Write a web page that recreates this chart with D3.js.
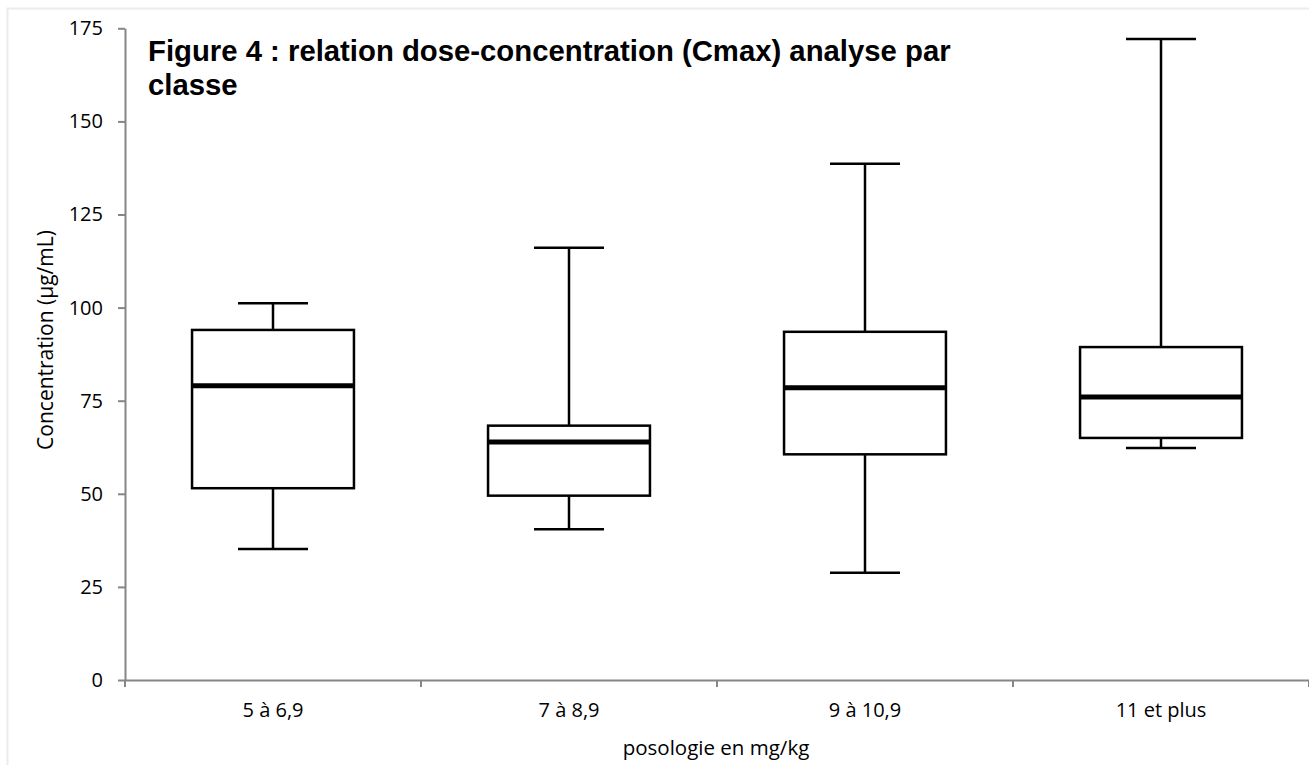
<!DOCTYPE html>
<html>
<head>
<meta charset="utf-8">
<script src="https://cdn.jsdelivr.net/npm/d3@7"></script>
<style>
  body { margin: 0; background: #fff; }
  svg { display: block; }
</style>
</head>
<body>
<div id="chart"></div>
<script>
// data
var categories = ["5 à 6,9", "7 à 8,9", "9 à 10,9", "11 et plus"];
var whiskerMin = [35.2, 40.5, 28.8, 62.3];
var q1Values   = [51.5, 49.5, 60.6, 65.0];
var medians    = [79.0, 63.9, 78.5, 76.0];
var q3Values   = [94.0, 68.3, 93.5, 89.4];
var whiskerMax = [101.2, 116.1, 138.6, 172.1];
var yTicks = [0, 25, 50, 75, 100, 125, 150, 175];

var W = 1309, H = 765;
var margin = {top: 28.3, right: 0, bottom: 85, left: 125},
    width = W - margin.left - margin.right,
    height = 680 - margin.top;

var svg = d3.select("#chart")
  .append("svg")
    .attr("width", W)
    .attr("height", H);

// light frame round the chart area
svg.append("rect")
  .attr("x", 7.5).attr("y", 8.5)
  .attr("width", W + 20).attr("height", H + 20)
  .attr("fill", "none")
  .attr("stroke", "#ebebeb")
  .attr("stroke-width", 2);

var g = svg.append("g")
  .attr("transform", "translate(" + margin.left + "," + margin.top + ")");

var x = d3.scaleBand()
  .domain(categories)
  .range([0, width])
  .paddingInner(0).paddingOuter(0);

var y = d3.scaleLinear()
  .domain([0, 175])
  .range([height, 0]);

var font = "'Open Sans', sans-serif";
var axisColor = "#868686";

// Y axis
var yAxis = g.append("g")
  .call(d3.axisLeft(y).tickValues(yTicks).tickSize(7).tickPadding(15).tickSizeOuter(0));
yAxis.select(".domain").attr("stroke", axisColor).attr("stroke-width", 2);
yAxis.selectAll(".tick line").attr("stroke", axisColor).attr("stroke-width", 2);
yAxis.selectAll("text").attr("font-family", font).attr("font-size", 20).attr("fill", "#000");

// X axis: labels at centres, ticks at class boundaries
var xAxis = g.append("g")
  .attr("transform", "translate(0," + height + ")")
  .call(d3.axisBottom(x).tickSize(0).tickPadding(23).tickSizeOuter(0));
xAxis.select(".domain").attr("stroke", axisColor).attr("stroke-width", 2);
xAxis.selectAll("text").attr("font-family", font).attr("font-size", 20).attr("fill", "#000");

var bounds = categories.map(function(c) { return x(c); }).concat([x(categories[categories.length - 1]) + x.bandwidth()]);
xAxis.selectAll(".bound")
  .data(bounds)
  .enter().append("line")
    .attr("class", "bound")
    .attr("x1", function(d) { return d; })
    .attr("x2", function(d) { return d; })
    .attr("y1", 0).attr("y2", 7)
    .attr("stroke", axisColor)
    .attr("stroke-width", 2);

// boxes
var boxW = x.bandwidth() * 0.547;
var capW = 70;
var idx = d3.range(categories.length);
var boxes = g.append("g").selectAll("g")
  .data(idx)
  .enter().append("g")
    .attr("transform", function(i) { return "translate(" + (x(categories[i]) + x.bandwidth() / 2) + ",0)"; });

// upper whisker
boxes.append("line")
  .attr("x1", 0).attr("x2", 0)
  .attr("y1", function(i) { return y(q3Values[i]); })
  .attr("y2", function(i) { return y(whiskerMax[i]); })
  .attr("stroke", "#000").attr("stroke-width", 2.5);
boxes.append("line")
  .attr("x1", -capW / 2).attr("x2", capW / 2)
  .attr("y1", function(i) { return y(whiskerMax[i]); })
  .attr("y2", function(i) { return y(whiskerMax[i]); })
  .attr("stroke", "#000").attr("stroke-width", 2.5);

// lower whisker
boxes.append("line")
  .attr("x1", 0).attr("x2", 0)
  .attr("y1", function(i) { return y(q1Values[i]); })
  .attr("y2", function(i) { return y(whiskerMin[i]); })
  .attr("stroke", "#000").attr("stroke-width", 2.5);
boxes.append("line")
  .attr("x1", -capW / 2).attr("x2", capW / 2)
  .attr("y1", function(i) { return y(whiskerMin[i]); })
  .attr("y2", function(i) { return y(whiskerMin[i]); })
  .attr("stroke", "#000").attr("stroke-width", 2.5);

// box
boxes.append("rect")
  .attr("x", -boxW / 2)
  .attr("width", boxW)
  .attr("y", function(i) { return y(q3Values[i]); })
  .attr("height", function(i) { return y(q1Values[i]) - y(q3Values[i]); })
  .attr("fill", "#fff")
  .attr("stroke", "#000").attr("stroke-width", 2.5);

// median
boxes.append("line")
  .attr("x1", -boxW / 2 - 1).attr("x2", boxW / 2 + 1)
  .attr("y1", function(i) { return y(medians[i]); })
  .attr("y2", function(i) { return y(medians[i]); })
  .attr("stroke", "#000").attr("stroke-width", 5);

// axis titles
svg.append("text")
  .attr("transform", "translate(53,340) rotate(-90)")
  .attr("text-anchor", "middle")
  .attr("font-family", font).attr("font-size", 21)
  .text("Concentration (µg/mL)");

svg.append("text")
  .attr("x", 716).attr("y", 755)
  .attr("text-anchor", "middle")
  .attr("font-family", font).attr("font-size", 20.5)
  .text("posologie en mg/kg");

// chart title (two lines)
var title = svg.append("text")
  .attr("font-family", "'Liberation Sans', Arial, sans-serif")
  .attr("font-weight", "bold")
  .attr("font-size", 29.3);
title.append("tspan").attr("x", 148).attr("y", 61).text("Figure 4 : relation dose-concentration (Cmax) analyse par");
title.append("tspan").attr("x", 148).attr("y", 95).text("classe");
</script>
</body>
</html>
